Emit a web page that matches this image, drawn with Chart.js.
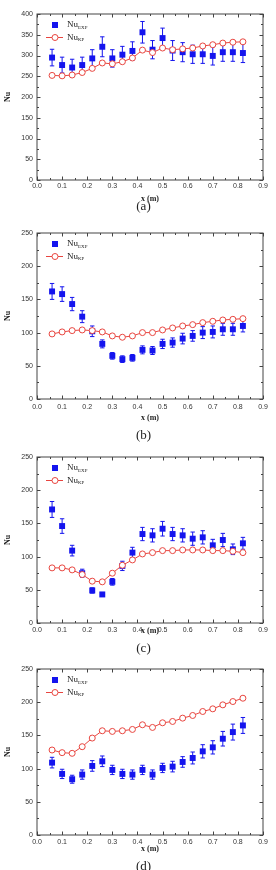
<!DOCTYPE html>
<html>
<head>
<meta charset="utf-8">
<script src="https://cdn.jsdelivr.net/npm/chart.js@4.4.0/dist/chart.umd.min.js"></script>
<style>
  body { margin: 0; background: #fff; width: 276px; height: 870px; position: relative; overflow: hidden; }
  .panel { position: absolute; left: 0; width: 276px; height: 206px; }
  .cap { position: absolute; left: 0; width: 287px; text-align: center; font-family: "Liberation Serif", serif;
         font-size: 13px; line-height: 14px; color: #222; }
</style>
</head>
<body>
<div class="panel" style="top:0px"><canvas id="ca" width="276" height="206"></canvas></div>
<div class="cap" style="top:199px">(a)</div>
<div class="panel" style="top:219px"><canvas id="cb" width="276" height="206"></canvas></div>
<div class="cap" style="top:428px">(b)</div>
<div class="panel" style="top:443px"><canvas id="cc" width="276" height="206"></canvas></div>
<div class="cap" style="top:641px">(c)</div>
<div class="panel" style="top:655px"><canvas id="cd" width="276" height="206"></canvas></div>
<div class="cap" style="top:859px">(d)</div>
<script>
// x positions along the plate (m)
const xs = [0.06, 0.10, 0.14, 0.18, 0.22, 0.26, 0.30, 0.34, 0.38, 0.42,
            0.46, 0.50, 0.54, 0.58, 0.62, 0.66, 0.70, 0.74, 0.78, 0.82];

// (a)
const expA = [295, 277, 271, 277, 293, 321, 293, 302, 311, 356, 314, 342, 312, 308, 303, 303, 299, 308, 308, 306];
const errA = [20, 19, 20, 19, 21, 24, 21, 20, 22, 26, 22, 24, 24, 23, 22, 22, 22, 22, 22, 23];
const kpA  = [252, 251, 253, 259, 269, 282, 280, 285, 294, 313, 307, 318, 314, 316, 318, 323, 326, 330, 332, 333];

// (b)
const expB = [162, 158, 143, 124, 102, 83, 65, 60, 62, 74, 73, 83, 85, 91, 95, 100, 101, 105, 105, 110];
const errB = [12, 11, 10, 9, 8, 6, 5, 5, 5, 6, 6, 7, 7, 8, 8, 9, 9, 9, 9, 9];
const kpB  = [98, 101, 103, 104, 103, 101, 95, 93, 95, 100, 100, 104, 107, 110, 112, 115, 117, 119, 120, 121];

// (c)
const expC = [171, 146, 109, 75, 49, 43, 62, 86, 106, 134, 132, 142, 134, 132, 127, 129, 117, 125, 111, 120];
const errC = [12, 11, 8, 6, 4, 3, 5, 7, 8, 10, 10, 11, 10, 10, 10, 10, 9, 10, 8, 9];
const kpC  = [83, 83, 80, 73, 63, 62, 75, 87, 95, 104, 106, 109, 109, 110, 110, 110, 109, 109, 108, 106];

// (d)
const expD = [109, 92, 84, 91, 104, 111, 98, 92, 91, 98, 91, 101, 103, 110, 116, 126, 132, 145, 155, 165];
const errD = [8, 7, 6, 7, 8, 8, 7, 7, 7, 7, 7, 7, 8, 8, 9, 10, 10, 11, 12, 12];
const kpD  = [128, 124, 123, 133, 146, 157, 156, 157, 159, 166, 162, 169, 171, 176, 180, 186, 190, 196, 201, 206];

const xTicks = [0, 0.1, 0.2, 0.3, 0.4, 0.5, 0.6, 0.7, 0.8, 0.9];

const BLUE = '#1414ee', RED = '#e8453f', AXIS = '#444';

// error bars under the squares
const errorBars = {
  id: 'errorBars',
  beforeDatasetsDraw(chart) {
    const {ctx, scales: {x, y}} = chart;
    chart.data.datasets.forEach(ds => {
      if (!ds.err) return;
      ctx.save();
      ctx.strokeStyle = ds.borderColor;
      ctx.lineWidth = 1;
      ds.data.forEach((p, i) => {
        const px = x.getPixelForValue(p.x),
              y0 = y.getPixelForValue(p.y - ds.err[i]),
              y1 = y.getPixelForValue(p.y + ds.err[i]);
        ctx.beginPath();
        ctx.moveTo(px, y0); ctx.lineTo(px, y1);
        ctx.moveTo(px - 2.2, y0); ctx.lineTo(px + 2.2, y0);
        ctx.moveTo(px - 2.2, y1); ctx.lineTo(px + 2.2, y1);
        ctx.stroke();
      });
      ctx.restore();
    });
  }
};

// closed frame with inward major/minor ticks on all sides
const frame = {
  id: 'frame',
  afterDatasetsDraw(chart) {
    const {ctx, chartArea: a, scales: {x, y}} = chart;
    ctx.save();
    ctx.strokeStyle = AXIS;
    ctx.lineWidth = 1;
    ctx.strokeRect(a.left, a.top, a.right - a.left, a.bottom - a.top);
    ctx.beginPath();
    for (let k = 0; k <= 18; k++) {
      const px = Math.round(x.getPixelForValue(k * 0.05)) + 0.5, len = k % 2 ? 2 : 3.5;
      ctx.moveTo(px, a.bottom); ctx.lineTo(px, a.bottom - len);
      ctx.moveTo(px, a.top); ctx.lineTo(px, a.top + len);
    }
    for (let k = 0; k * 25 <= y.max; k++) {
      const py = Math.round(y.getPixelForValue(k * 25)) + 0.5, len = k % 2 ? 2 : 3.5;
      ctx.moveTo(a.left, py); ctx.lineTo(a.left + len, py);
      ctx.moveTo(a.right, py); ctx.lineTo(a.right - len, py);
    }
    ctx.stroke();
    ctx.restore();
  }
};

// legend with subscripts, inside the plot at top left
const subLegend = {
  id: 'subLegend',
  afterDraw(chart) {
    const {ctx, chartArea: a} = chart;
    const mx = a.left + 18, tx = a.left + 30, r1 = a.top + 11, r2 = a.top + 23.5;
    ctx.save();
    ctx.fillStyle = BLUE;
    ctx.fillRect(mx - 3, r1 - 3, 6, 6);
    ctx.strokeStyle = RED;
    ctx.lineWidth = 1;
    ctx.beginPath(); ctx.moveTo(mx - 9, r2); ctx.lineTo(mx + 8, r2); ctx.stroke();
    ctx.fillStyle = '#fff';
    ctx.beginPath(); ctx.arc(mx, r2, 3, 0, Math.PI * 2); ctx.fill(); ctx.stroke();
    ctx.fillStyle = '#222';
    ctx.textBaseline = 'middle';
    [['EXP', r1], ['KP', r2]].forEach(([sub, ry]) => {
      ctx.font = '9px "Liberation Serif", serif';
      ctx.fillText('Nu', tx, ry);
      const w = ctx.measureText('Nu').width;
      ctx.font = '5px "Liberation Serif", serif';
      ctx.fillText(sub, tx + w, ry + 2.5);
    });
    ctx.restore();
  }
};

function makeChart(id, exp, err, kp, ymax, tickPad, titlePad) {
  new Chart(document.getElementById(id), {
    type: 'scatter',
    data: {
      datasets: [{
        label: 'NuKP',
        data: xs.map((v, i) => ({x: v, y: kp[i]})),
        showLine: true,
        borderColor: RED,
        borderWidth: 1,
        backgroundColor: '#fff',
        pointStyle: 'circle',
        pointRadius: 3,
        pointBorderWidth: 1,
        pointBorderColor: RED
      }, {
        label: 'NuEXP',
        data: xs.map((v, i) => ({x: v, y: exp[i]})),
        err: err,
        borderColor: BLUE,
        backgroundColor: BLUE,
        pointStyle: 'rect',
        pointRadius: 4.2,
        pointBorderWidth: 0
      }]
    },
    options: {
      responsive: false,
      animation: false,
      events: [],
      layout: {autoPadding: false, padding: {top: 14, right: 13, left: 0, bottom: 0}},
      plugins: {legend: {display: false}, tooltip: {enabled: false}},
      scales: {
        x: {
          type: 'linear', min: 0, max: 0.9,
          afterBuildTicks: s => { s.ticks = xTicks.map(v => ({value: v})); },
          afterFit: s => { s.height = 26; },
          grid: {display: false, drawTicks: false},
          border: {display: false},
          ticks: {
            padding: tickPad, color: '#333',
            font: {family: '"Liberation Sans", Arial, sans-serif', size: 7},
            callback: v => v.toFixed(1)
          },
          title: {
            display: true, text: 'x (m)', color: '#222',
            font: {family: '"Liberation Serif", serif', size: 8, weight: 'bold'},
            padding: {top: 0, bottom: titlePad}
          }
        },
        y: {
          min: 0, max: ymax,
          ticks: {
            stepSize: 50, padding: 4, color: '#333',
            font: {family: '"Liberation Sans", Arial, sans-serif', size: 7}
          },
          afterFit: s => { s.width = 37; },
          grid: {display: false, drawTicks: false},
          border: {display: false},
          title: {
            display: true, text: 'Nu', color: '#222',
            font: {family: '"Liberation Serif", serif', size: 8, weight: 'bold'},
            padding: {top: 3, bottom: 0}
          }
        }
      }
    },
    plugins: [errorBars, frame, subLegend]
  });
}

makeChart('ca', expA, errA, kpA, 400, 2, 2.3);
makeChart('cb', expB, errB, kpB, 250, 4, 1.8);
makeChart('cc', expC, errC, kpC, 250, 3, 12.8);
makeChart('cd', expD, errD, kpD, 250, 2.5, 7.5);
</script>
</body>
</html>
